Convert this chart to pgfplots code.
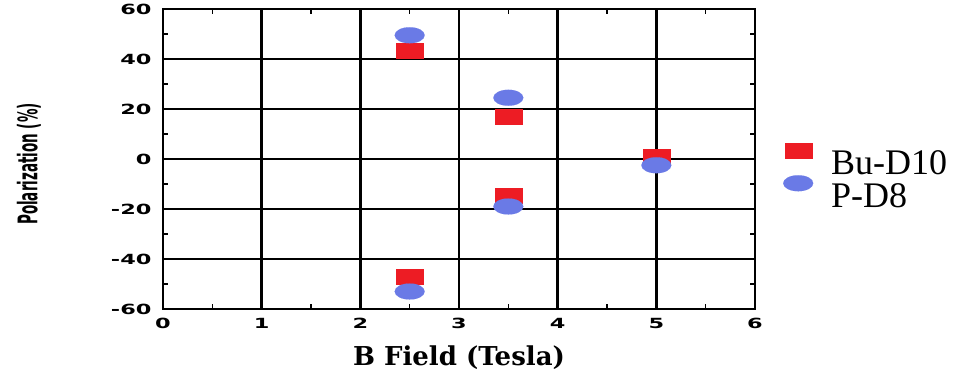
\documentclass[border=0pt]{standalone}
\usepackage{fontspec}
\usepackage{graphicx}
\usepackage{pgfplots}
\pgfplotsset{compat=1.18}
\setmainfont{Liberation Serif}
\newfontfamily\sansbold{DejaVu Sans}
\newfontfamily\serifbold{DejaVu Serif}
\definecolor{bured}{HTML}{ED1C24}
\definecolor{pblue}{HTML}{6A7AE6}

% measured polarization values
\begin{document}
\begin{tikzpicture}
\begin{axis}[
  scale only axis, width=592pt, height=300pt,
  xmin=0, xmax=6, ymin=-60, ymax=60,
  xtick={0,1,...,6}, ytick={-60,-40,...,60},
  minor x tick num=1, minor y tick num=1,
  grid=major, major grid style={black, line width=2.4pt},
  axis line style={black, line width=2.8pt},
  major tick length=0pt, minor tick length=5pt,
  tick style={black, line width=1.5pt}, tick align=inside,
  /pgf/number format/assume math mode=true,
  ticklabel style={font=\sansbold\bfseries\fontsize{14}{14}\selectfont},
  xticklabel={\scalebox{1.6}[1]{\pgfmathprintnumber{\tick}}},
  yticklabel={\scalebox{1.6}[1]{\pgfmathprintnumber{\tick}}},
  xticklabel style={yshift=-6pt},
  yticklabel style={xshift=-8pt},
  xlabel={B Field (Tesla)},
  ylabel={\scalebox{0.5}[1]{Polarization (\%)}},
  xlabel style={font=\serifbold\bfseries\fontsize{26}{26}\selectfont,
    at={(axis description cs:0.5,0)}, anchor=center, yshift=-49pt},
  ylabel style={font=\sansbold\bfseries\fontsize{27}{27}\selectfont,
    at={(axis description cs:0,0.5)}, anchor=center, rotate=0,
    yshift=134pt, xshift=-5pt},
  legend style={at={(axis description cs:1,0.5)}, anchor=west,
    xshift=28pt, yshift=-18pt,
    draw=none, fill=none, font=\fontsize{36}{38}\selectfont,
    row sep=-3pt, inner sep=0pt,
    /tikz/every odd column/.append style={column sep=16pt}},
  legend cell align=left,
  legend image code/.code={\draw[#1] plot coordinates {(0.45cm,0.45cm)};},
  clip=false,
]
\addplot[only marks, mark=square*, mark size=1pt,
  mark options={draw=bured, fill=bured, line width=0.05pt,
    xscale=13.5, yscale=7.5}]
  coordinates {(2.5,43.5) (3.5,17) (3.5,-14.5) (2.5,-47) (5,1)};
\addlegendentry{Bu-D10}
\addplot[only marks, mark=*, mark size=1pt,
  mark options={draw=pblue, fill=pblue, line width=0.05pt,
    xscale=15, yscale=8}]
  coordinates {(2.5,49.5) (3.5,24.5) (3.5,-19) (2.5,-53) (5,-2.5)};
\addlegendentry{P-D8}
\end{axis}
\path (current axis.south west) ++(-163pt,-67pt) rectangle ++(964pt,376pt);
\end{tikzpicture}
\end{document}
